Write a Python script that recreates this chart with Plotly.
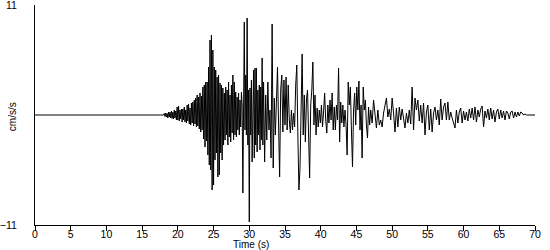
import numpy as np
import plotly.graph_objects as go

# Quiet pre-event part (s, cm/s/s)
t_quiet = [0.0, 17.9]
a_quiet = [0.0, 0.0]

# Onset: 18.0 s onward, sampled every 0.1 s
onset_start, onset_step = 18.0, 0.1
a_onset = [
    0, 0.15, -0.15, 0.2, -0.2, 0.15, -0.3, 0.3, -0.2, 0.3,
    -0.3, 0.4, -0.35, 0.3, -0.4, 0.5, -0.3, 0.4, -0.5, 0.8,
    -0.5, 0.9, -0.6, 0.5, -0.4, 0.6, -0.7, 0.6, -0.5, 0.8,
    -0.7, 0.5, -0.8, 1.0, -0.6, 1.1, -0.9, 0.7, -1.0, 1.2,
    -0.8, 1.3, -1.1, 1.5, -0.9, 1.7, -1.2, 2.0, -1.1, 1.8,
]

# Strong motion: 23.0 s onward, every 0.1 s
strong_start, strong_step = 23.0, 0.1
a_strong = [
    -1.4, 2.2, -1.7, 1.9, -1.5, 2.8, -2.4, 3.0, -3.2, 3.3,
    -2.6, 3.3, -4.0, 4.8, -5.0, 7.5, -5.5, 8.0, -7.5, 6.5,
    -7.0, 4.8, -4.5, 4.5, -3.8, 3.8, -6.2, 4.0, -6.0, 3.2,
    -3.8, 3.0, -4.5, 2.7, -3.0, 2.2, -2.5, 2.8, -2.0, 2.5,
    -3.0, 3.3, -2.2, 2.0, -2.7, 3.0, -1.8, 4.0, -2.5, 3.3,
    -2.0, 2.3, -2.2, 1.8, -1.5, 2.2, -2.0, 1.5, -1.2, 2.3,
    1.0, -7.8, 2.0, 9.3, -1.5, 4.0, -2.0, 9.7, -3.0, 2.5,
    -10.7, 2.7, -2.0, 3.5, -4.7, 2.5, 4.5, -4.3, 4.7, -3.0,
    4.7, -3.7, 2.5, -2.0, 3.0, -3.5, 2.8, -2.5, 5.7, -3.0,
]

# Coda: 32.0 s onward, every 0.15 s
coda_start, coda_step = 32.0, 0.15
a_coda = [
    3.3, -4.7, 2.0, -2.5, 3.3, -1.5, 0.5, -4.3, 9.1, -5.3,
    1.7, -2.0, 0.8, 4.8, -1.0, -6.2, 2.5, 4.0, -1.7, 3.5,
    -1.0, 3.8, -1.5, 3.0, -0.5, -1.8, 0.5, -1.5, 0.2, -1.2,
    3.0, 5.0, -2.0, -7.5, -5.3, 2.0, 6.1, -2.0, 2.0, -2.7,
    1.5, 2.5, -1.0, -6.3, 1.0, 2.5, 5.3, -1.0, 2.0, -2.0,
    0.7, -1.2, 0.5, -0.8, 1.0, -1.2, 0.3, 2.2, -0.5, -1.8,
    1.0, -0.8, 1.5, -0.5, 2.2, -1.5, 0.8, -1.5, 1.0, -0.5,
    4.7, -2.7, 1.3, -0.8, 1.0, -1.2, 0.5, -1.0, -4.0, 3.3,
    1.0, 2.8, -1.5, -5.2, 0.5, 2.2, -1.0, 2.8, 0.5, 3.4,
    -1.5, 1.0, -4.3, 2.8, 0.5, 1.5, -1.0, -2.3, 0.8, -1.0,
]

# Tail: 47.0 s onward, every 0.2 s
tail_start, tail_step = 47.0, 0.2
a_tail = [
    0.5, -0.8, 1.5, -0.3, -1.3, 0.5, -1.0, -0.5, -1.2, 0.2,
    1.0, 1.7, -0.2, 0.6, -0.5, 1.7, 0.2, -1.7, 0.7, -1.2,
    0.8, -0.5, 0.6, -0.3, -1.3, 0.2, -0.8, 0.5, -0.9, 2.8,
    -1.5, 1.7, 0.5, 1.5, -0.6, 1.0, -0.8, 1.2, -2.0, 0.3,
    1.0, -1.5, 0.6, -1.7, 0.2, 0.8, -0.5, 0.5, -1.0, 1.6,
    -0.5, 0.8, 1.2, -0.5, 1.3, -0.5, 0.3, -0.3, -0.8, -1.3,
    0.5, -0.8, 0.3, 0.7, -0.8, 0.4, -0.5, 0.3, -0.6, 0.6,
    -0.3, 0.7, -0.5, 0.8, -0.7, 0.5, -0.2, 0.6, 0.9, -1.2,
    0.4, -0.3, 0.6, -0.5, 0.7, -0.4, 0.5, -0.7, 0.3, 0.6,
    -0.4, 0.5, -0.3, 0.4, -0.5, 0.4, 0.2, -0.4, 0.3, 0.4,
    -0.3, 0.3, -0.2, 0.3, -0.1, 0.3, 0.2, 0.0, 0.1, 0.0,
    0, 0, 0, 0, 0, 0,
]

x_ticks = list(range(0, 71, 5))
y_ticks = [-11, 11]
x_title = "Time (s)"
y_title = "cm/s/s"


def seg_times(start, step, vals):
    return [round(start + i * step, 3) for i in range(len(vals))]


t_all = (t_quiet
         + seg_times(onset_start, onset_step, a_onset)
         + seg_times(strong_start, strong_step, a_strong)
         + seg_times(coda_start, coda_step, a_coda)
         + seg_times(tail_start, tail_step, a_tail))
a_all = a_quiet + a_onset + a_strong + a_coda + a_tail

font = dict(family="Liberation Sans, Arial, sans-serif", size=10, color="black")
tick_font = dict(family="Liberation Sans, Arial, sans-serif", size=10.5, color="black")

fig = go.Figure()
fig.add_trace(go.Scatter(x=t_all, y=a_all, mode="lines",
                         line=dict(color="black", width=1), hoverinfo="skip"))

fig.update_layout(
    width=550, height=250,
    margin=dict(l=35, r=15, t=5, b=25, autoexpand=False),
    paper_bgcolor="white", plot_bgcolor="white",
    showlegend=False, font=font,
    xaxis=dict(range=[0, 70], tickvals=x_ticks, ticks="outside", ticklen=5,
               tickcolor="black", showline=True, linecolor="black", linewidth=1,
               showgrid=False, zeroline=False, tickfont=tick_font,
               automargin=False, ticklabelstandoff=-6,
               ticklabeloverflow="allow"),
    yaxis=dict(range=[-11.0001, 11.0001], tickvals=y_ticks, ticks="",
               showline=True, linecolor="black", linewidth=1, showgrid=False,
               zeroline=False, tickfont=tick_font, ticklabelstandoff=15,
               automargin=False, ticklabeloverflow="allow"),
    annotations=[
        dict(text=x_title, xref="paper", yref="paper", x=0.432, y=-0.09,
             xanchor="center", yanchor="middle", showarrow=False, font=font),
        dict(text=y_title, xref="paper", yref="paper", x=-0.046, y=0.49,
             xanchor="center", yanchor="middle", showarrow=False, font=font,
             textangle=-90),
    ],
)

fig.write_html("out.html")
